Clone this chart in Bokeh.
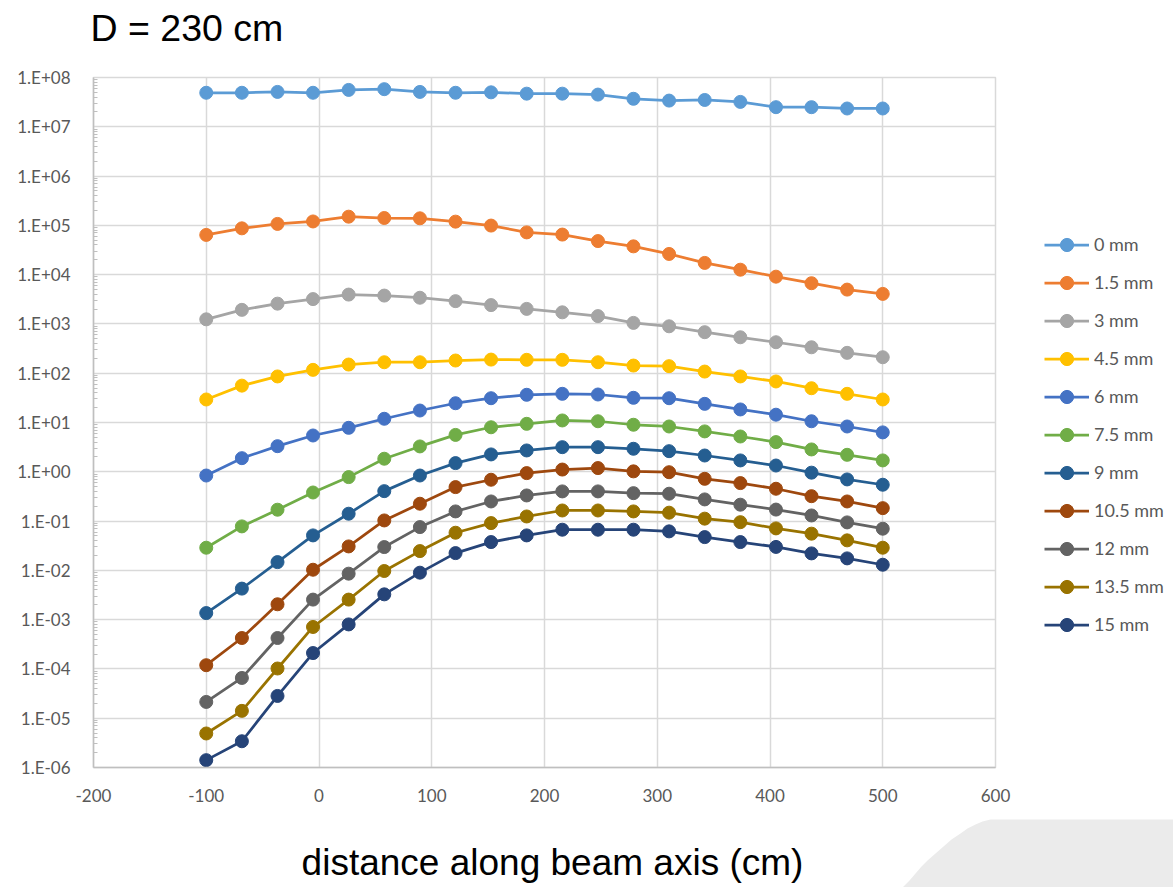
from bokeh.plotting import figure
from bokeh.models import Legend, LegendItem, FixedTicker, Label
from bokeh.layouts import column, row
from bokeh.embed import file_html
from bokeh.resources import INLINE

# ---------------- data ----------------
x_cm = [-100, -68.4, -36.8, -5.3, 26.3, 57.9, 89.5, 121.1, 152.6, 184.2,
        215.8, 247.4, 278.9, 310.5, 342.1, 373.7, 405.3, 436.8, 468.4, 500]

s_0mm = [4.9e7, 4.9e7, 5.1e7, 4.9e7, 5.6e7, 5.8e7, 5.1e7, 4.9e7, 5.0e7, 4.7e7,
         4.7e7, 4.5e7, 3.7e7, 3.4e7, 3.5e7, 3.2e7, 2.5e7, 2.5e7, 2.35e7, 2.35e7]
s_1_5mm = [6.4e4, 8.7e4, 1.07e5, 1.2e5, 1.5e5, 1.41e5, 1.39e5, 1.19e5, 9.9e4, 7.2e4,
           6.5e4, 4.8e4, 3.75e4, 2.63e4, 1.73e4, 1.26e4, 9.1e3, 6.7e3, 4.97e3, 4.07e3]
s_3mm = [1.24e3, 1.93e3, 2.58e3, 3.19e3, 3.94e3, 3.76e3, 3.4e3, 2.9e3, 2.41e3, 2.02e3,
         1.72e3, 1.44e3, 1.05e3, 8.95e2, 6.8e2, 5.36e2, 4.25e2, 3.36e2, 2.59e2, 2.11e2]
s_4_5mm = [29.3, 56, 86, 117, 150, 167, 167, 181, 189, 187,
           187, 167, 143, 139, 108, 86, 68, 49.6, 38.2, 29.3]
s_6mm = [0.84, 1.89, 3.31, 5.45, 7.8, 11.9, 17.5, 24.6, 31.1, 36.5,
         38.2, 37, 31.7, 31.1, 23.9, 18.4, 14.4, 10.6, 8.3, 6.3]
s_7_5mm = [0.0288, 0.078, 0.17, 0.38, 0.78, 1.84, 3.27, 5.6, 8.0, 9.4,
           11.0, 10.6, 9.0, 8.3, 6.6, 5.2, 4.0, 2.84, 2.21, 1.70]
s_9mm = [1.36e-3, 4.26e-3, 0.0147, 0.0512, 0.141, 0.405, 0.84, 1.50, 2.25, 2.71,
         3.16, 3.16, 2.93, 2.62, 2.14, 1.70, 1.34, 0.96, 0.70, 0.546]
s_10_5mm = [1.19e-4, 4.24e-4, 2.05e-3, 0.0103, 0.0306, 0.103, 0.225, 0.489, 0.69, 0.94,
            1.11, 1.19, 1.02, 0.98, 0.72, 0.59, 0.453, 0.32, 0.25, 0.183]
s_12mm = [2.14e-5, 6.56e-5, 4.24e-4, 2.55e-3, 8.57e-3, 0.0297, 0.0755, 0.157, 0.25, 0.331,
          0.40, 0.40, 0.369, 0.359, 0.275, 0.215, 0.171, 0.130, 0.094, 0.070]
s_13_5mm = [4.9e-6, 1.41e-5, 1.02e-4, 7.1e-4, 2.55e-3, 9.7e-3, 0.0246, 0.058, 0.091, 0.124,
            0.164, 0.164, 0.157, 0.148, 0.112, 0.095, 0.071, 0.0555, 0.0406, 0.0288]
s_15mm = [1.41e-6, 3.41e-6, 2.83e-5, 2.1e-4, 8.0e-4, 3.26e-3, 8.98e-3, 0.0224, 0.0375, 0.0512,
          0.0668, 0.0668, 0.0668, 0.0618, 0.0473, 0.0375, 0.0299, 0.0221, 0.0175, 0.0130]

series_names = ["0 mm", "1.5 mm", "3 mm", "4.5 mm", "6 mm", "7.5 mm",
                "9 mm", "10.5 mm", "12 mm", "13.5 mm", "15 mm"]
series_values = [s_0mm, s_1_5mm, s_3mm, s_4_5mm, s_6mm, s_7_5mm,
                 s_9mm, s_10_5mm, s_12mm, s_13_5mm, s_15mm]
series_colors = ["#5B9BD5", "#ED7D31", "#A5A5A5", "#FFC000", "#4472C4", "#70AD47",
                 "#255E91", "#9E480E", "#636363", "#997300", "#264478"]

x_ticks = [-200, -100, 0, 100, 200, 300, 400, 500, 600]
x_tick_labels = ["-200", "-100", "0", "100", "200", "300", "400", "500", "600"]
y_ticks = [1e-6, 1e-5, 1e-4, 1e-3, 1e-2, 1e-1, 1e0, 1e1, 1e2, 1e3, 1e4, 1e5, 1e6, 1e7, 1e8]
y_tick_labels = ["1.E-06", "1.E-05", "1.E-04", "1.E-03", "1.E-02", "1.E-01", "1.E+00",
                 "1.E+01", "1.E+02", "1.E+03", "1.E+04", "1.E+05", "1.E+06", "1.E+07", "1.E+08"]

title_text = "D = 230 cm"
x_label_text = "distance along beam axis (cm)"

# ---------------- layout geometry (pixels) ----------------
W, H = 1173, 887
TOP_H = 60            # title strip
BOT_H = 72            # x-label strip
MID_H = H - TOP_H - BOT_H
FRAME_LEFT, FRAME_RIGHT = 93, 995
FRAME_TOP, FRAME_BOT = 77, 767   # page y of the plot frame
MAIN_W = 1012
LEG_W = W - MAIN_W


def blank(width, height, xr, yr):
    f = figure(width=width, height=height, x_range=xr, y_range=yr,
               output_backend="svg", toolbar_location=None,
               x_axis_location=None, y_axis_location=None,
               min_border=0, min_border_left=0, min_border_right=0,
               min_border_top=0, min_border_bottom=0)
    f.grid.visible = False
    f.outline_line_color = None
    f.background_fill_color = "white"
    f.border_fill_color = "white"
    return f


# ---- title strip ----
top = blank(W, TOP_H, (0, W), (0, TOP_H))
top.add_layout(Label(x=90, y=33, text=title_text,
                     text_font="Liberation Sans", text_font_size="37.5px",
                     text_color="black", text_align="left", text_baseline="alphabetic"))

# ---- main chart ----
p = figure(width=MAIN_W, height=MID_H, x_range=(-200, 600), y_range=(1e-6, 1e8),
           y_axis_type="log", output_backend="svg", toolbar_location=None,
           min_border_left=FRAME_LEFT, min_border_right=MAIN_W - FRAME_RIGHT,
           min_border_top=FRAME_TOP - TOP_H, min_border_bottom=(H - BOT_H) - FRAME_BOT)
p.background_fill_color = "white"
p.border_fill_color = "white"
p.outline_line_color = "#d9d9d9"
p.outline_line_width = 1.5

minor = [m * 10.0 ** k for k in range(-6, 8) for m in range(2, 10)]
p.yaxis.ticker = FixedTicker(ticks=y_ticks, minor_ticks=minor)
p.yaxis.major_label_overrides = {t: lab for t, lab in zip(y_ticks, y_tick_labels)}
p.xaxis.ticker = FixedTicker(ticks=x_ticks)
p.xaxis.major_label_overrides = {t: lab for t, lab in zip(x_ticks, x_tick_labels)}

for ax in (p.xaxis, p.yaxis):
    ax.axis_line_color = "#bfbfbf"
    ax.axis_line_width = 1.5
    ax.major_tick_line_color = None
    ax.major_label_text_font = "Lato"
    ax.major_label_text_font_size = "17px"
    ax.major_label_text_color = "#595959"
p.xaxis.minor_tick_line_color = None
p.yaxis.minor_tick_line_color = "#bfbfbf"
p.yaxis.minor_tick_in = 4
p.yaxis.minor_tick_out = 0
p.yaxis.major_label_standoff = 17
p.xaxis.major_label_standoff = 15

p.xgrid.grid_line_color = "#d9d9d9"
p.ygrid.grid_line_color = "#d9d9d9"
p.xgrid.grid_line_width = 1.5
p.ygrid.grid_line_width = 1.5
p.xgrid.ticker = FixedTicker(ticks=x_ticks)
p.ygrid.ticker = FixedTicker(ticks=y_ticks)

for vals, col in zip(series_values, series_colors):
    p.line(x_cm, vals, line_color=col, line_width=2.75)
    p.scatter(x_cm, vals, marker="circle", size=13, fill_color=col, line_color=col)

# ---- legend strip (its frame is aligned with the main frame by the row) ----
leg = blank(LEG_W, MID_H, (0, 1), (0, 1))
items = []
for name, col in zip(series_names, series_colors):
    r1 = leg.line([5, 6], [5, 6], line_color=col, line_width=2.75)
    r2 = leg.scatter([5], [5], marker="circle", size=13, fill_color=col, line_color=col)
    items.append(LegendItem(label=name, renderers=[r1, r2]))
leg_top = 244 - 16.5
leg_h = 11 * 33 + 10 * 5
legend = Legend(items=items, location=(1044 - MAIN_W, FRAME_BOT - (leg_top + leg_h)),
                glyph_width=45, glyph_height=33, label_height=22, spacing=5,
                label_standoff=5, padding=0, margin=0,
                label_text_font="Lato", label_text_font_size="18px",
                label_text_color="#595959",
                border_line_color=None, background_fill_alpha=0)
leg.add_layout(legend, "center")

# ---- x-label strip with the slide's decorative corner shape ----
bot = blank(W, BOT_H, (0, W), (0, BOT_H))
shape_x = [902, 909, 915, 921, 927, 935, 943, 951, 960, 967, 975, 982, 990, 1173, 1173]
shape_y = [887, 880, 873, 866, 860, 853, 846, 839, 833, 828, 824, 821, 819, 819, 887]
bot.patch(shape_x, [H - sy for sy in shape_y], fill_color="#ebebeb", line_color=None)
bot.add_layout(Label(x=552, y=25, text=x_label_text,
                     text_font="Liberation Sans", text_font_size="37px",
                     text_color="black", text_align="center", text_baseline="alphabetic"))

layout = column(top, row(p, leg), bot)
open("out.html", "w").write(file_html(layout, INLINE))
